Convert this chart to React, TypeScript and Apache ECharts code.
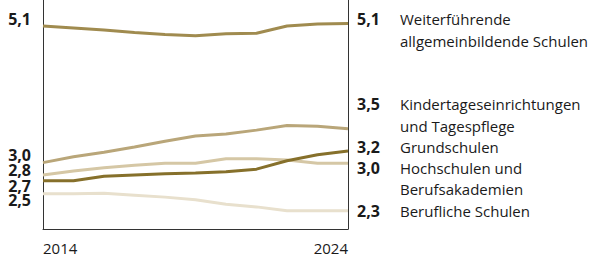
import React, { useEffect, useRef } from "react";
import * as echarts from "echarts";

const years = ["2014", "2015", "2016", "2017", "2018", "2019", "2020", "2021", "2022", "2023", "2024"];

const weiterfuehrende = [5.1, 5.07, 5.04, 5.0, 4.97, 4.95, 4.98, 4.99, 5.1, 5.13, 5.14];
const kita = [3.0, 3.09, 3.16, 3.24, 3.33, 3.41, 3.44, 3.5, 3.57, 3.56, 3.52];
const hochschulen = [2.81, 2.87, 2.92, 2.96, 2.99, 2.99, 3.06, 3.06, 3.04, 2.99, 2.99];
const berufliche = [2.52, 2.52, 2.53, 2.5, 2.47, 2.43, 2.36, 2.32, 2.26, 2.26, 2.26];
const grundschulen = [2.72, 2.72, 2.79, 2.81, 2.83, 2.84, 2.86, 2.9, 3.03, 3.12, 3.18];

const startLabels = ["5,1", "3,0", "2,8", "2,7", "2,5"];
const endValues = ["5,1", "3,5", "3,2", "3,0", "2,3"];
const endNames = [
  ["Weiterführende", "allgemeinbildende Schulen"],
  ["Kindertageseinrichtungen", "und Tagespflege"],
  ["Grundschulen"],
  ["Hochschulen und", "Berufsakademien"],
  ["Berufliche Schulen"],
];

const FONT = "'Open Sans', 'Noto Sans', sans-serif";

export default function App() {
  const ref = useRef<HTMLDivElement>(null);

  useEffect(() => {
    document.body.style.margin = "0";
    const chart = echarts.init(ref.current!, null, { renderer: "svg" });

    const startY = [19, 155, 169.5, 185.5, 199.5];
    const endY = [[19, 41], [104, 126], [147], [168, 189], [211]];

    const graphics: any[] = [];
    startLabels.forEach((t, i) => {
      graphics.push({
        type: "text",
        x: 31,
        y: startY[i],
        style: {
          text: t,
          font: `bold 16px ${FONT}`,
          fill: "#1a1a1a",
          textAlign: "right",
          textVerticalAlign: "middle",
        },
      });
    });
    endValues.forEach((t, i) => {
      graphics.push({
        type: "text",
        x: 357,
        y: endY[i][0],
        style: {
          text: t,
          font: `bold 16px ${FONT}`,
          fill: "#1a1a1a",
          textAlign: "left",
          textVerticalAlign: "middle",
        },
      });
      endNames[i].forEach((n, j) => {
        graphics.push({
          type: "text",
          x: 400,
          y: endY[i][j],
          style: {
            text: n,
            font: `15px ${FONT}`,
            fill: "#1a1a1a",
            textAlign: "left",
            textVerticalAlign: "middle",
          },
        });
      });
    });

    const mk = (name: string, data: number[], color: string) => ({
      name,
      type: "line",
      data,
      symbol: "none",
      smooth: false,
      lineStyle: { width: 3, color },
      itemStyle: { color },
    });

    chart.setOption({
      animation: false,
      grid: { left: 43, right: 247, top: 0, bottom: 26 },
      xAxis: {
        type: "category",
        data: years,
        boundaryGap: false,
        axisLine: { show: true, lineStyle: { color: "#333", width: 1 } },
        axisTick: { show: false },
        axisLabel: {
          interval: (idx: number) => idx === 0 || idx === years.length - 1,
          alignMinLabel: "left",
          alignMaxLabel: "right",
          margin: 11,
          color: "#1a1a1a",
          fontSize: 15,
          fontFamily: FONT,
        },
        splitLine: { show: false },
      },
      yAxis: [
        {
          type: "value",
          min: 1.98,
          max: 5.5,
          axisLine: { show: true, lineStyle: { color: "#333", width: 1 } },
          axisTick: { show: false },
          axisLabel: { show: false },
          splitLine: { show: false },
        },
        {
          type: "value",
          position: "right",
          min: 1.98,
          max: 5.5,
          axisLine: { show: true, lineStyle: { color: "#333", width: 1 } },
          axisTick: { show: false },
          axisLabel: { show: false },
          splitLine: { show: false },
        },
      ],
      series: [
        mk("Berufliche Schulen", berufliche, "#e8e0cd"),
        mk("Hochschulen und Berufsakademien", hochschulen, "#d5c7a5"),
        mk("Kindertageseinrichtungen und Tagespflege", kita, "#b9a679"),
        mk("Weiterführende allgemeinbildende Schulen", weiterfuehrende, "#a08b4f"),
        mk("Grundschulen", grundschulen, "#86702b"),
      ],
      graphic: graphics,
    });

    return () => chart.dispose();
  }, []);

  return <div ref={ref} style={{ width: 595, height: 255 }} />;
}
